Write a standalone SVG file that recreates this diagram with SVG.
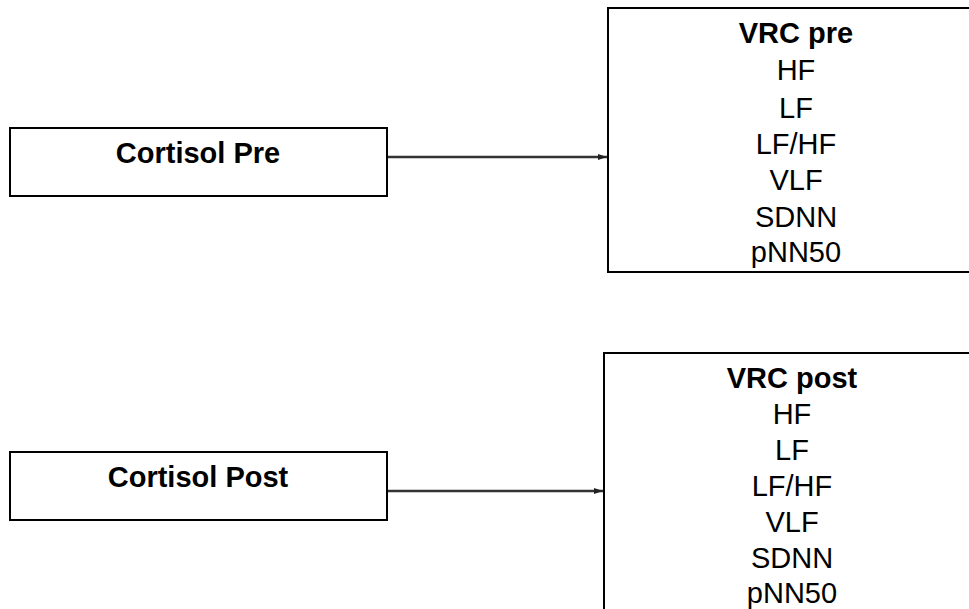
<svg xmlns="http://www.w3.org/2000/svg" width="969" height="609" viewBox="0 0 969 609">
<style>
.box{fill:#fff;stroke:#000;stroke-width:2}
.t{font-family:"Liberation Sans",Arial,sans-serif;font-size:29px;fill:#000;text-anchor:middle}
.b{font-weight:bold}
.c{stroke:#333;stroke-width:2.5;fill:none}
</style>
<defs>
<marker id="ah" markerWidth="10" markerHeight="8" refX="9" refY="4" orient="auto" markerUnits="userSpaceOnUse">
<path d="M0,1 L9,4 L0,7 Z" fill="#222"/>
</marker>
</defs>
<rect width="969" height="609" fill="#fff"/>
<g id="connectors">
<line class="c" x1="387" y1="157" x2="607" y2="157" marker-end="url(#ah)"/>
<line class="c" x1="383" y1="491" x2="603" y2="491" marker-end="url(#ah)"/>
</g>
<g id="cortisol-pre">
<rect class="box" x="10" y="128" width="377" height="68"/>
<text class="t b" x="198" y="163">Cortisol Pre</text>
</g>
<g id="vrc-pre">
<rect class="box" x="608" y="8" width="376" height="264"/>
<text class="t b" x="796" y="43">VRC pre</text>
<text class="t" x="796" y="80">HF</text>
<text class="t" x="796" y="117.5">LF</text>
<text class="t" x="796" y="154">LF/HF</text>
<text class="t" x="796" y="190">VLF</text>
<text class="t" x="796" y="226.5">SDNN</text>
<text class="t" x="796" y="262">pNN50</text>
</g>
<g id="cortisol-post">
<rect class="box" x="10" y="452" width="377" height="68"/>
<text class="t b" x="198" y="487">Cortisol Post</text>
</g>
<g id="vrc-post">
<rect class="box" x="604" y="353" width="376" height="270"/>
<text class="t b" x="792" y="388">VRC post</text>
<text class="t" x="792" y="424">HF</text>
<text class="t" x="792" y="460">LF</text>
<text class="t" x="792" y="496">LF/HF</text>
<text class="t" x="792" y="531.5">VLF</text>
<text class="t" x="792" y="567.5">SDNN</text>
<text class="t" x="792" y="603">pNN50</text>
</g>
</svg>
